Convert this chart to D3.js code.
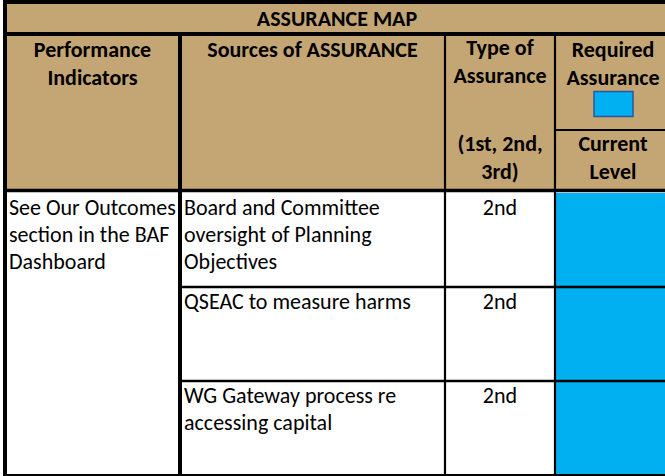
<!DOCTYPE html>
<html>
<head>
<meta charset="utf-8">
<script src="https://cdn.jsdelivr.net/npm/d3@7/dist/d3.min.js"></script>
<style>
  html, body { margin: 0; padding: 0; background: #fff; }
  svg { display: block; }
  text { font-family: Carlito, Calibri, Lato, sans-serif; font-size: 22px; fill: #000; }
</style>
</head>
<body>
<svg id="chart" width="665" height="476"></svg>
<script>
// ---- data ----
const title = "ASSURANCE MAP";
const columnKeys = ["indicators", "sources", "type", "level"];
const headerLines = [["Performance", "Indicators"], ["Sources of ASSURANCE"], ["Type of", "Assurance"], ["Required", "Assurance"]];
const typeNote = ["(1st, 2nd,", "3rd)"];
const currentLabel = ["Current", "Level"];
const performanceIndicators = ["See Our Outcomes", "section in the BAF", "Dashboard"];
const sources = [["Board and Committee", "oversight of Planning", "Objectives"], ["QSEAC to measure harms"], ["WG Gateway process re", "accessing capital"]];
const assuranceTypes = ["2nd", "2nd", "2nd"];
const currentLevels = ["required", "required", "required"];
const requiredLevel = "required";

// ---- styles / layout ----
const tan = "#C4A674";
const levelColor = d3.scaleOrdinal().domain(["required"]).range(["#00B0F0"]);

const svg = d3.select("#chart");
const colEdges = [5, 180, 445, 555, 671];
const x0 = d3.scaleOrdinal().domain(columnKeys).range(colEdges.slice(0, 4));
const x1 = d3.scaleOrdinal().domain(columnKeys).range(colEdges.slice(1));
const cx = k => (x0(k) + x1(k)) / 2;

const tableTop = 2, titleBottom = 34, headerBottom = 190.5, subDiv = 130, tableBottom = 476;
const rowScale = d3.scaleBand().domain(d3.range(sources.length)).range([193, 475]);
const lineH = 27;

// backgrounds
svg.append("rect").attr("x", colEdges[0]).attr("y", tableTop).attr("width", colEdges[4] - colEdges[0]).attr("height", headerBottom - tableTop).attr("fill", tan);
svg.append("rect").attr("x", colEdges[0]).attr("y", headerBottom).attr("width", colEdges[4] - colEdges[0]).attr("height", tableBottom - headerBottom).attr("fill", "#fff");

// level cells
svg.append("g").selectAll("rect").data(currentLevels).join("rect")
  .attr("x", x0("level")).attr("y", (d, i) => rowScale(i))
  .attr("width", x1("level") - x0("level")).attr("height", rowScale.bandwidth())
  .attr("fill", d => levelColor(d));

// lines
const line = (xa, ya, xb, yb, w) => svg.append("line").attr("x1", xa).attr("y1", ya).attr("x2", xb).attr("y2", yb)
  .attr("stroke", "#000").attr("stroke-width", w);
line(colEdges[0] - 2, tableTop, colEdges[4], tableTop, 4);
line(colEdges[0], tableTop, colEdges[0], tableBottom, 4);
line(colEdges[0], titleBottom, colEdges[4], titleBottom, 4);
line(colEdges[0], headerBottom, colEdges[4], headerBottom, 3.5);
line(colEdges[0] - 2, tableBottom, colEdges[4], tableBottom, 4);
line(x1("indicators"), titleBottom, x1("indicators"), tableBottom, 4);
line(x1("sources"), titleBottom, x1("sources"), tableBottom, 2.2);
line(x1("type"), titleBottom, x1("type"), tableBottom, 2.2);
line(x0("level"), subDiv, colEdges[4], subDiv, 2.2);
rowScale.domain().slice(1).forEach(i => line(x0("sources"), rowScale(i), colEdges[4], rowScale(i), 2.5));

// title
svg.append("text").attr("x", 337).attr("y", 26).attr("text-anchor", "middle").attr("font-weight", "bold").text(title);

// header text
const headerBase = [57, 57, 55, 57];
columnKeys.forEach((k, ci) => {
  svg.append("g").selectAll("text").data(headerLines[ci]).join("text")
    .attr("x", cx(k)).attr("y", (d, i) => headerBase[ci] + i * 28)
    .attr("text-anchor", "middle").attr("font-weight", "bold").text(d => d);
});
svg.append("g").selectAll("text").data(typeNote).join("text")
  .attr("x", cx("type")).attr("y", (d, i) => 151 + i * 28)
  .attr("text-anchor", "middle").attr("font-weight", "bold").text(d => d);
svg.append("g").selectAll("text").data(currentLabel).join("text")
  .attr("x", cx("level")).attr("y", (d, i) => 151 + i * 28)
  .attr("text-anchor", "middle").attr("font-weight", "bold").text(d => d);

// legend swatch under "Required Assurance"
svg.append("rect").attr("x", cx("level") - 19).attr("y", 91.5).attr("width", 39).attr("height", 25)
  .attr("fill", levelColor(requiredLevel)).attr("stroke", "#2F5597").attr("stroke-width", 1.5);

// body text
const base0 = 22;
svg.append("g").selectAll("text").data(performanceIndicators).join("text")
  .attr("x", 9).attr("y", (d, i) => rowScale(0) + base0 + i * lineH).text(d => d);

sources.forEach((lines, ri) => {
  svg.append("g").selectAll("text").data(lines).join("text")
    .attr("x", x0("sources") + 4).attr("y", (d, i) => rowScale(ri) + base0 + i * lineH).text(d => d);
});
svg.append("g").selectAll("text").data(assuranceTypes).join("text")
  .attr("x", cx("type")).attr("y", (d, i) => rowScale(i) + base0)
  .attr("text-anchor", "middle").text(d => d);
</script>
</body>
</html>
